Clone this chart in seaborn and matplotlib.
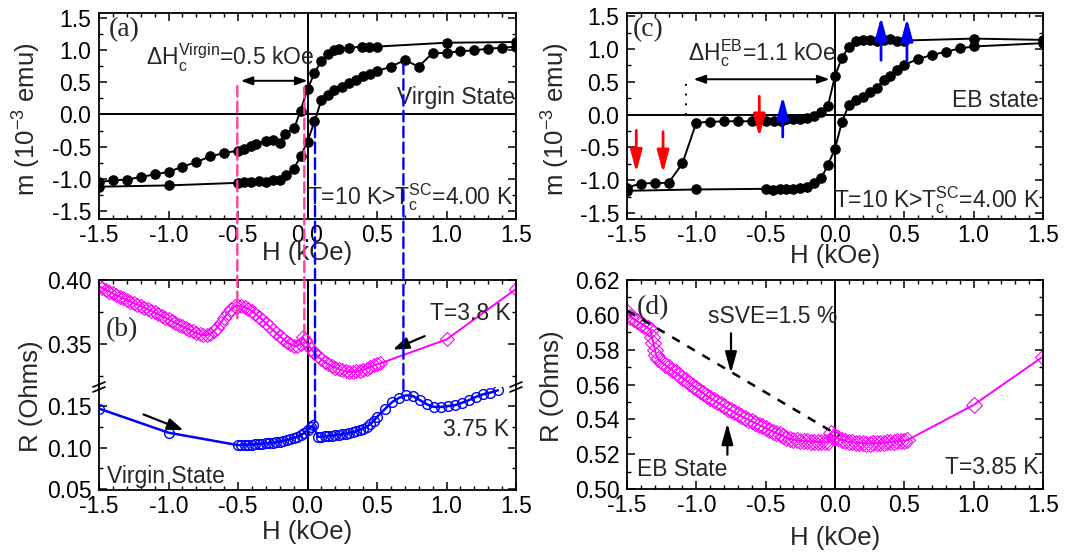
import matplotlib
matplotlib.use("Agg")
import matplotlib.pyplot as plt
import seaborn as sns
from matplotlib.patches import ConnectionPatch
from matplotlib.lines import Line2D
from matplotlib.ticker import MultipleLocator, FormatStrFormatter

# ---------------- data ----------------
# (a) virgin-state magnetisation loop, T = 10 K
H_a_down = [1.5, 1.0, 0.5, 0.44, 0.39, 0.30, 0.23, 0.19, 0.15, 0.10, 0.05, 0.0,
            -0.05, -0.095, -0.16, -0.2, -0.25, -0.30, -0.37, -0.41, -0.46, -0.5,
            -0.6, -0.7, -0.8, -0.9, -1.0, -1.1, -1.2, -1.3, -1.4, -1.5]
m_a_down = [1.12, 1.11, 1.05, 1.05, 1.05, 1.03, 1.01, 0.99, 0.94, 0.83, 0.64, 0.39,
            0.06, -0.21, -0.30, -0.45, -0.39, -0.41, -0.46, -0.49, -0.53, -0.56,
            -0.60, -0.65, -0.74, -0.81, -0.89, -0.93, -0.97, -1.01, -1.02, -1.05]
H_a_up = [-1.5, -1.0, -0.5, -0.46, -0.41, -0.35, -0.3, -0.25, -0.2, -0.155, -0.1,
          -0.05, 0.0, 0.05, 0.10, 0.15, 0.19, 0.25, 0.30, 0.35, 0.40, 0.45, 0.5,
          0.6, 0.7, 0.8, 0.9, 1.0, 1.1, 1.2, 1.3, 1.4, 1.5]
m_a_up = [-1.12, -1.10, -1.06, -1.05, -1.04, -1.03, -1.05, -1.02, -1.01, -0.94, -0.85,
          -0.65, -0.42, -0.11, 0.22, 0.30, 0.38, 0.43, 0.49, 0.54, 0.59, 0.62, 0.67,
          0.74, 0.84, 0.74, 0.95, 0.95, 0.98, 0.99, 1.02, 1.03, 1.05]

# (c) exchange-bias-state magnetisation loop, T = 10 K
H_c_down = [1.5, 1.0, 0.5, 0.45, 0.40, 0.35, 0.30, 0.25, 0.20, 0.15, 0.10, 0.05, 0.0,
            -0.05, -0.10, -0.15, -0.20, -0.25, -0.30, -0.35, -0.39, -0.44, -0.50,
            -0.60, -0.70, -0.80, -0.90, -1.00, -1.10, -1.20, -1.30, -1.40, -1.50]
m_c_down = [1.14, 1.16, 1.13, 1.13, 1.16, 1.14, 1.13, 1.14, 1.14, 1.12, 1.03, 0.87, 0.59,
            0.14, 0.04, -0.02, -0.05, -0.06, -0.06, -0.07, -0.09, -0.10, -0.10,
            -0.10, -0.10, -0.10, -0.11, -0.12, -0.74, -1.04, -1.04, -1.05, -1.11]
H_c_up = [-1.5, -1.0, -0.5, -0.45, -0.4, -0.35, -0.3, -0.25, -0.2, -0.15, -0.1, -0.05,
          0.0, 0.05, 0.10, 0.15, 0.20, 0.25, 0.30, 0.35, 0.40, 0.45, 0.5, 0.6, 0.7,
          0.8, 0.9, 1.0, 1.5]
m_c_up = [-1.16, -1.14, -1.13, -1.15, -1.14, -1.13, -1.13, -1.11, -1.10, -1.04, -0.97, -0.76,
          -0.52, -0.11, 0.15, 0.22, 0.27, 0.34, 0.41, 0.53, 0.59, 0.68, 0.76, 0.85, 0.91,
          0.96, 1.01, 1.04, 1.09]

# (b) magnetoresistance, virgin state, T = 3.8 K
H_b38 = [-1.500, -1.475, -1.450, -1.425, -1.400, -1.375, -1.350, -1.325, -1.300, -1.275,
         -1.250, -1.225, -1.200, -1.175, -1.150, -1.125, -1.100, -1.075, -1.050, -1.025,
         -1.000, -0.975, -0.950, -0.925, -0.900, -0.875, -0.850, -0.825, -0.800, -0.775,
         -0.750, -0.725, -0.700, -0.675, -0.650, -0.625, -0.600, -0.575, -0.550, -0.525,
         -0.500, -0.475, -0.450, -0.425, -0.400, -0.375, -0.350, -0.325, -0.300, -0.275,
         -0.250, -0.225, -0.200, -0.175, -0.150, -0.125, -0.100, -0.075, -0.050, -0.035,
         -0.020, 0.000, 0.025, 0.050, 0.075, 0.100, 0.125, 0.150, 0.175, 0.200,
         0.225, 0.250, 0.275, 0.300, 0.325, 0.350, 0.375, 0.400, 0.425, 0.450,
         0.475, 0.500, 0.520, 1.000, 1.500]
R_b38 = [0.3953, 0.3938, 0.3923, 0.3910, 0.3895, 0.3880, 0.3868, 0.3857, 0.3845, 0.3832,
         0.3820, 0.3808, 0.3797, 0.3785, 0.3773, 0.3760, 0.3748, 0.3735, 0.3722, 0.3708,
         0.3695, 0.3680, 0.3665, 0.3652, 0.3640, 0.3627, 0.3614, 0.3600, 0.3588, 0.3577,
         0.3570, 0.3572, 0.3580, 0.3600, 0.3630, 0.3665, 0.3705, 0.3745, 0.3775, 0.3795,
         0.3800, 0.3797, 0.3788, 0.3775, 0.3758, 0.3738, 0.3715, 0.3690, 0.3664, 0.3638,
         0.3612, 0.3587, 0.3563, 0.3540, 0.3518, 0.3500, 0.3488, 0.3485, 0.3505, 0.3560,
         0.3530, 0.3500, 0.3465, 0.3430, 0.3405, 0.3382, 0.3362, 0.3345, 0.3330, 0.3318,
         0.3306, 0.3297, 0.3290, 0.3285, 0.3285, 0.3288, 0.3293, 0.3300, 0.3310, 0.3322,
         0.3335, 0.3345, 0.3350, 0.3537, 0.3930]

# (b) magnetoresistance, virgin state, T = 3.75 K
H_b375 = [-1.5, -1.0, -0.500, -0.475, -0.450, -0.425, -0.400, -0.375, -0.350, -0.325,
          -0.300, -0.275, -0.250, -0.225, -0.200, -0.175, -0.150, -0.125, -0.100, -0.075,
          -0.050, -0.025, 0.000, 0.025, 0.040, 0.075, 0.100, 0.125, 0.150, 0.175,
          0.200, 0.225, 0.250, 0.275, 0.300, 0.325, 0.350, 0.375, 0.400, 0.425,
          0.450, 0.475, 0.500, 0.56, 0.61, 0.66, 0.71, 0.76, 0.81, 0.86,
          0.91, 0.96, 1.01, 1.06, 1.11, 1.16, 1.21, 1.26, 1.31, 1.37]
R_b375 = [0.147, 0.118, 0.1030, 0.1032, 0.1033, 0.1035, 0.1037, 0.1040, 0.1043, 0.1046,
          0.1050, 0.1055, 0.1060, 0.1066, 0.1073, 0.1082, 0.1092, 0.1103, 0.1115, 0.1130,
          0.1150, 0.1175, 0.1210, 0.1245, 0.1270, 0.1130, 0.1130, 0.1135, 0.1140, 0.1145,
          0.1150, 0.1155, 0.1160, 0.1168, 0.1176, 0.1185, 0.1195, 0.1215, 0.1230, 0.1250,
          0.1280, 0.1320, 0.1370, 0.1470, 0.1550, 0.1600, 0.1630, 0.1620, 0.1570, 0.1520,
          0.1490, 0.1490, 0.1500, 0.1510, 0.1540, 0.1570, 0.1610, 0.1640, 0.1660, 0.1690]

# (d) magnetoresistance, exchange-bias state, T = 3.85 K
H_d = [-1.500, -1.475, -1.450, -1.425, -1.400, -1.375, -1.350, -1.330, -1.320, -1.310,
       -1.300, -1.290, -1.275, -1.250, -1.225, -1.200, -1.175, -1.150, -1.125, -1.100,
       -1.075, -1.050, -1.025, -1.000, -0.975, -0.950, -0.925, -0.900, -0.875, -0.850,
       -0.825, -0.800, -0.775, -0.750, -0.725, -0.700, -0.675, -0.650, -0.625, -0.600,
       -0.575, -0.550, -0.525, -0.500, -0.475, -0.450, -0.425, -0.400, -0.375, -0.350,
       -0.325, -0.300, -0.275, -0.250, -0.225, -0.200, -0.175, -0.150, -0.125, -0.100,
       -0.075, -0.050, -0.030, -0.015, 0.000, 0.025, 0.050, 0.075, 0.100, 0.125,
       0.150, 0.175, 0.200, 0.225, 0.250, 0.275, 0.300, 0.325, 0.350, 0.375,
       0.400, 0.425, 0.450, 0.475, 0.500, 0.520, 1.000, 1.500]
R_d = [0.6015, 0.5990, 0.5975, 0.5962, 0.5950, 0.5938, 0.5925, 0.5913, 0.5870, 0.5840,
       0.5800, 0.5770, 0.5745, 0.5728, 0.5712, 0.5698, 0.5685, 0.5669, 0.5654, 0.5639,
       0.5623, 0.5608, 0.5593, 0.5578, 0.5564, 0.5549, 0.5535, 0.5523, 0.5511, 0.5498,
       0.5486, 0.5474, 0.5462, 0.5451, 0.5440, 0.5428, 0.5417, 0.5407, 0.5398, 0.5388,
       0.5378, 0.5369, 0.5359, 0.5350, 0.5340, 0.5330, 0.5321, 0.5313, 0.5305, 0.5295,
       0.5287, 0.5283, 0.5280, 0.5277, 0.5275, 0.5273, 0.5272, 0.5271, 0.5270, 0.5269,
       0.5268, 0.5268, 0.5320, 0.5300, 0.5300, 0.5290, 0.5282, 0.5276, 0.5271, 0.5268,
       0.5265, 0.5263, 0.5262, 0.5261, 0.5261, 0.5262, 0.5263, 0.5264, 0.5266, 0.5268,
       0.5270, 0.5272, 0.5274, 0.5276, 0.5278, 0.5280, 0.5483, 0.5760]

# straight reference line used for the sSVE estimate in (d)
H_ref_d = [-1.5, 0.03]
R_ref_d = [0.6025, 0.5305]

# ---------------- style ----------------
sns.set_style("ticks")
plt.rcParams["font.family"] = ["Liberation Sans", "DejaVu Sans"]
plt.rcParams["mathtext.fontset"] = "custom"
plt.rcParams["mathtext.rm"] = "Liberation Sans"
plt.rcParams["mathtext.it"] = "Liberation Sans:italic"
plt.rcParams["mathtext.bf"] = "Liberation Sans:bold"
plt.rcParams["axes.unicode_minus"] = False
plt.rcParams["axes.linewidth"] = 1.3
plt.rcParams["axes.edgecolor"] = "black"

FS_TICK = 16.5
FS_LABEL = 18.5
FS_TEXT = 16.5
FS_PANEL = 20
SERIF = ["Liberation Serif", "DejaVu Serif"]
MAG = "#FF00FF"
BLUE = "#0000FF"
PINK_DASH = "#FF3FA0"

W, H = 1083, 552
fig = plt.figure(figsize=(W / 100, H / 100), dpi=100)


def rect(l, t, r, b):
    return [l / W, 1 - b / H, (r - l) / W, (b - t) / H]


ax_a = fig.add_axes(rect(99, 13, 516, 219))
ax_c = fig.add_axes(rect(627, 13, 1043, 219))
ax_bu = fig.add_axes(rect(99, 280, 516, 387))
ax_bl = fig.add_axes(rect(99, 387, 516, 490))
ax_d = fig.add_axes(rect(627, 280, 1043, 489))


def style(ax, ymaj, ymin, yfmt, xlabels=True):
    ax.set_xlim(-1.5, 1.5)
    ax.xaxis.set_major_locator(MultipleLocator(0.5))
    ax.xaxis.set_minor_locator(MultipleLocator(0.1))
    ax.xaxis.set_major_formatter(FormatStrFormatter("%.1f"))
    ax.yaxis.set_major_locator(MultipleLocator(ymaj))
    ax.yaxis.set_minor_locator(MultipleLocator(ymin))
    ax.yaxis.set_major_formatter(FormatStrFormatter(yfmt))
    ax.tick_params(which="both", direction="in", top=True, right=True,
                   labelsize=FS_TICK, color="black", labelcolor="black")
    ax.tick_params(which="major", length=5.5, width=1.1)
    ax.tick_params(which="minor", length=3, width=1.0)
    ax.tick_params(axis="x", pad=3.5)
    ax.tick_params(axis="y", pad=5.5)
    if not xlabels:
        ax.tick_params(axis="x", labelbottom=False)
    ax.set_xlabel("")
    ax.set_ylabel("")
    for s in ax.spines.values():
        s.set_color("black")
        s.set_linewidth(1.3)


loop_kw = dict(sort=False, estimator=None, color="black", marker="o", markersize=6.8,
               markerfacecolor="black", markeredgecolor="black", markeredgewidth=0.8,
               linewidth=1.4, legend=False)
head_kw = dict(color="black", lw=1.4, mutation_scale=14, shrinkA=0, shrinkB=0,
               arrowstyle="<|-|>,head_length=0.5,head_width=0.18")

# ---- (a) ----
ax = ax_a
ax.axhline(0, color="black", lw=1.4, zorder=1)
ax.axvline(0, color="black", lw=1.4, zorder=1)
sns.lineplot(x=H_a_down, y=m_a_down, ax=ax, **loop_kw)
sns.lineplot(x=H_a_up, y=m_a_up, ax=ax, **loop_kw)
ax.set_ylim(-1.62, 1.57)
style(ax, 0.5, 0.25, "%.1f")
ax.text(-1.43, 1.51, "(a)", family=SERIF, fontsize=FS_PANEL, ha="left", va="top")
ax.text(-1.16, 0.76, r"$\Delta\mathrm{H}_\mathrm{c}^\mathrm{Virgin}$=0.5 kOe",
        fontsize=FS_TEXT, ha="left", va="baseline")
ax.annotate("", xy=(-0.48, 0.52), xytext=(0.0, 0.52), arrowprops=head_kw)
ax.text(1.49, 0.16, "Virgin State", fontsize=FS_TEXT, ha="right", va="baseline")
ax.text(1.48, -1.39, r"T=10 K>$\mathrm{T}_\mathrm{c}^\mathrm{SC}$=4.00 K",
        fontsize=FS_TEXT, ha="right", va="baseline")

# ---- (c) ----
ax = ax_c
ax.axhline(0, color="black", lw=1.4, zorder=1)
ax.axvline(0, color="black", lw=1.4, zorder=1)
sns.lineplot(x=H_c_down, y=m_c_down, ax=ax, **loop_kw)
sns.lineplot(x=H_c_up, y=m_c_up, ax=ax, **loop_kw)
ax.set_ylim(-1.59, 1.55)
style(ax, 0.5, 0.25, "%.1f")
ax.text(-1.46, 1.48, "(c)", family=SERIF, fontsize=FS_PANEL, ha="left", va="top")
ax.text(-1.06, 0.83, r"$\Delta\mathrm{H}_\mathrm{c}^\mathrm{EB}$=1.1 kOe",
        fontsize=FS_TEXT, ha="left", va="baseline")
ax.annotate("", xy=(-1.02, 0.54), xytext=(-0.04, 0.54), arrowprops=head_kw)
ax.plot([-1.075, -1.075], [0.0, 0.55], color="black", lw=1.4, ls=(0, (1, 4)))
ax.text(1.47, 0.12, "EB state", fontsize=FS_TEXT, ha="right", va="baseline")
ax.text(1.48, -1.41, r"T=10 K>$\mathrm{T}_\mathrm{c}^\mathrm{SC}$=4.00 K",
        fontsize=FS_TEXT, ha="right", va="baseline")
spin_arrows = [((-1.433, -0.24), (-1.433, -0.88), "red"),
               ((-1.24, -0.26), (-1.24, -0.89), "red"),
               ((-0.546, 0.28), (-0.546, -0.34), "red"),
               ((-0.377, -0.34), (-0.377, 0.28), BLUE),
               ((0.332, 0.83), (0.332, 1.49), BLUE),
               ((0.519, 0.83), (0.519, 1.47), BLUE)]
for start, end, col in spin_arrows:
    ax.annotate("", xy=end, xytext=start,
                arrowprops=dict(arrowstyle="-|>,head_length=0.75,head_width=0.2",
                                color=col, lw=2.0, mutation_scale=18,
                                shrinkA=0, shrinkB=0))

# ---- (b) broken axis ----
for ax in (ax_bu, ax_bl):
    ax.axvline(0, color="black", lw=1.4, zorder=1)
    sns.lineplot(x=H_b38, y=R_b38, ax=ax, sort=False, estimator=None, color=MAG,
                 marker="D", markersize=7.5, markerfacecolor="none", markeredgecolor=MAG,
                 markeredgewidth=0.8, linewidth=1.4, legend=False)
    sns.lineplot(x=H_b375, y=R_b375, ax=ax, sort=False, estimator=None, color=BLUE,
                 marker="o", markersize=7, markerfacecolor="none", markeredgecolor=BLUE,
                 markeredgewidth=1.0, linewidth=1.8, legend=False)
ax_bu.set_ylim(0.3167, 0.40)
ax_bl.set_ylim(0.049, 0.173)
style(ax_bu, 0.05, 0.025, "%.2f", xlabels=False)
style(ax_bl, 0.05, 0.025, "%.2f")
ax_bu.spines["bottom"].set_visible(False)
ax_bu.tick_params(axis="x", which="both", bottom=False)
ax_bl.spines["top"].set_visible(False)
ax_bl.tick_params(axis="x", which="both", top=False)

ax_bu.text(-1.45, 0.371, "(b)", family=SERIF, fontsize=FS_PANEL, ha="left", va="top")
ax_bu.text(1.46, 0.3688, "T=3.8 K", fontsize=FS_TEXT, ha="right", va="baseline")
ax_bl.text(1.45, 0.1143, "3.75 K", fontsize=FS_TEXT, ha="right", va="baseline")
ax_bl.text(-1.44, 0.058, "Virgin State", fontsize=FS_TEXT, ha="left", va="baseline")
arrow_kw = dict(arrowstyle="-|>,head_length=0.6,head_width=0.22",
                color="black", lw=1.6, mutation_scale=16, shrinkA=0, shrinkB=0)
ax_bl.annotate("", xy=(-0.893, 0.121), xytext=(-1.18, 0.140), arrowprops=arrow_kw)
ax_bu.annotate("", xy=(0.615, 0.3458), xytext=(0.843, 0.3563), arrowprops=arrow_kw)

# break marks on both y spines
for xs in (99, 516):
    for dy in (-2.5, 2.5):
        fig.add_artist(Line2D([(xs - 6) / W, (xs + 6) / W],
                              [1 - (387 + dy + 2.5) / H, 1 - (387 + dy - 2.5) / H],
                              transform=fig.transFigure, color="black", lw=1.2))

# ---- (d) ----
ax = ax_d
ax.axvline(0, color="black", lw=1.4, zorder=1)
sns.lineplot(x=H_d, y=R_d, ax=ax, sort=False, estimator=None, color=MAG,
             marker="D", markersize=8, markerfacecolor="none", markeredgecolor=MAG,
             markeredgewidth=0.8, linewidth=1.4, legend=False)
sns.lineplot(x=H_ref_d, y=R_ref_d, ax=ax, sort=False, estimator=None, color="black",
             linewidth=1.8, linestyle=(0, (3.5, 3.5)), legend=False)
ax.set_ylim(0.50, 0.62)
style(ax, 0.02, 0.01, "%.2f")
ax.text(-1.43, 0.6115, "(d)", family=SERIF, fontsize=FS_PANEL, ha="left", va="top")
ax.text(-0.915, 0.5955, "sSVE=1.5 %", fontsize=FS_TEXT, ha="left", va="baseline")
ax.text(-1.43, 0.5073, "EB State", fontsize=FS_TEXT, ha="left", va="baseline")
ax.text(1.465, 0.5088, "T=3.85 K", fontsize=FS_TEXT, ha="right", va="baseline")
vert_kw = dict(arrowstyle="-|>,head_length=0.8,head_width=0.22",
               color="black", lw=1.6, mutation_scale=16, shrinkA=0, shrinkB=0)
ax.annotate("", xy=(-0.75, 0.5665), xytext=(-0.75, 0.5894), arrowprops=vert_kw)
ax.annotate("", xy=(-0.776, 0.5378), xytext=(-0.776, 0.5197), arrowprops=vert_kw)

# ---- dashed guide lines linking the loop in (a) to the resistance in (b) ----
guides = [(-0.505, 0.44, ax_bu, 0.3688, PINK_DASH),
          (-0.023, 0.42, ax_bu, 0.3531, PINK_DASH),
          (0.054, -0.19, ax_bl, 0.1266, BLUE),
          (0.69, 0.79, ax_bl, 0.1676, BLUE)]
for x, ya, axb, yb, col in guides:
    con = ConnectionPatch(xyA=(x, ya), coordsA=ax_a.transData,
                          xyB=(x, yb), coordsB=axb.transData,
                          color=col, lw=1.7, linestyle=(0, (4.5, 2.2)),
                          shrinkA=0, shrinkB=0, zorder=5)
    fig.add_artist(con)

# ---- axis titles ----
fig.text(27 / W, 1 - 119 / H, r"m (10$^{-3}$ emu)", rotation=90,
         fontsize=FS_LABEL, ha="center", va="center")
fig.text(556 / W, 1 - 119 / H, r"m (10$^{-3}$ emu)", rotation=90,
         fontsize=FS_LABEL, ha="center", va="center")
fig.text(31 / W, 1 - 396 / H, "R (Ohms)", rotation=90,
         fontsize=FS_LABEL, ha="center", va="center")
fig.text(552 / W, 1 - 386 / H, "R (Ohms)", rotation=90,
         fontsize=FS_LABEL, ha="center", va="center")
fig.text(307 / W, 1 - 253 / H, "H (kOe)", fontsize=FS_LABEL, ha="center", va="center")
fig.text(835 / W, 1 - 256 / H, "H (kOe)", fontsize=FS_LABEL, ha="center", va="center")
fig.text(307 / W, 1 - 532 / H, "H (kOe)", fontsize=FS_LABEL, ha="center", va="center")
fig.text(835 / W, 1 - 538 / H, "H (kOe)", fontsize=FS_LABEL, ha="center", va="center")

fig.savefig("out.png", dpi=100)
